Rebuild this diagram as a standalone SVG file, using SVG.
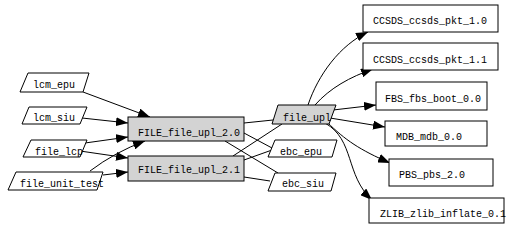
<svg xmlns="http://www.w3.org/2000/svg" width="514" height="228" viewBox="0 0 514 228">
<style>
.n{fill:#fff;stroke:#000;stroke-width:1}
.g{fill:#d3d3d3;stroke:#000;stroke-width:1}
text{font-family:"Liberation Mono","DejaVu Sans Mono",monospace;font-size:10px;fill:#000}
.e{fill:none;stroke:#000;stroke-width:1}
</style>
<defs>
<marker id="a" markerUnits="userSpaceOnUse" markerWidth="13" markerHeight="9" refX="12" refY="4.5" orient="auto">
<path d="M0,0 L12,4.5 L0,9 z" fill="#000"/>
</marker>
</defs>
<rect width="514" height="228" fill="#fff"/>
<g id="edges">
<path class="e" d="M83,92 L150,117" marker-end="url(#a)"/>
<path class="e" d="M82,118 L128,123" marker-end="url(#a)"/>
<path class="e" d="M85,143 L128,137" marker-end="url(#a)"/>
<path class="e" d="M80,151 L128,158" marker-end="url(#a)"/>
<path class="e" d="M90,171 Q115,152 145,141" marker-end="url(#a)"/>
<path class="e" d="M103,175 L128,172" marker-end="url(#a)"/>
<path class="e" d="M244,123 L273,120"/>
<path class="e" d="M244,133 L272,148"/>
<path class="e" d="M225,141 L278,173"/>
<path class="e" d="M233,156 L282,124"/>
<path class="e" d="M244,160 L272,150"/>
<path class="e" d="M244,177 L270,181"/>
<path class="e" d="M308,105 C318,75 340,45 368,32" marker-end="url(#a)"/>
<path class="e" d="M315,105 C330,88 350,77 373,69" marker-end="url(#a)"/>
<path class="e" d="M333,110 L376,105" marker-end="url(#a)"/>
<path class="e" d="M330,118 L385,127" marker-end="url(#a)"/>
<path class="e" d="M327,122 C345,140 360,150 390,163" marker-end="url(#a)"/>
<path class="e" d="M325,123 C355,140 345,175 372,200" marker-end="url(#a)"/>
</g>
<g id="lcm_epu"><polygon class="n" points="28,73 89,73 83,92 20,92"/><text x="33" y="88">lcm_epu</text></g>
<g id="lcm_siu"><polygon class="n" points="29,107 87,107 80,124 22,124"/><text x="33" y="121">lcm_siu</text></g>
<g id="file_lcp"><polygon class="n" points="31,140 87,140 80,157 23,157"/><text x="35" y="155">file_lcp</text></g>
<g id="file_unit_test"><polygon class="n" points="16,172 103,172 97,190 8,190"/><text x="20" y="187">file_unit_test</text></g>
<g id="FILE_file_upl_2.0"><rect class="g" x="128" y="117" width="116" height="24"/><text x="138" y="136">FILE_file_upl_2.0</text></g>
<g id="FILE_file_upl_2.1"><rect class="g" x="128" y="156" width="116" height="25"/><text x="138" y="173">FILE_file_upl_2.1</text></g>
<g id="file_upl"><polygon class="g" points="278,105 336,105 329,124 272,124"/><text x="283" y="121">file_upl</text></g>
<g id="ebc_epu"><polygon class="n" points="275,140 337,140 332,157 268,157"/><text x="280" y="155">ebc_epu</text></g>
<g id="ebc_siu"><polygon class="n" points="275,173 336,173 331,191 268,191"/><text x="282" y="187">ebc_siu</text></g>
<g id="CCSDS_ccsds_pkt_1.0"><rect class="n" x="363" y="5" width="135" height="27"/><text x="373" y="24">CCSDS_ccsds_pkt_1.0</text></g>
<g id="CCSDS_ccsds_pkt_1.1"><rect class="n" x="363" y="43" width="135" height="27"/><text x="373" y="63">CCSDS_ccsds_pkt_1.1</text></g>
<g id="FBS_fbs_boot_0.0"><rect class="n" x="376" y="82" width="111" height="28"/><text x="385" y="102">FBS_fbs_boot_0.0</text></g>
<g id="MDB_mdb_0.0"><rect class="n" x="385" y="121" width="102" height="25"/><text x="396" y="140">MDB_mdb_0.0</text></g>
<g id="PBS_pbs_2.0"><rect class="n" x="389" y="159" width="104" height="27"/><text x="399" y="178">PBS_pbs_2.0</text></g>
<g id="ZLIB_zlib_inflate_0.1"><rect class="n" x="369" y="198" width="135" height="25"/><text x="380" y="217">ZLIB_zlib_inflate_0.1</text></g>
</svg>
